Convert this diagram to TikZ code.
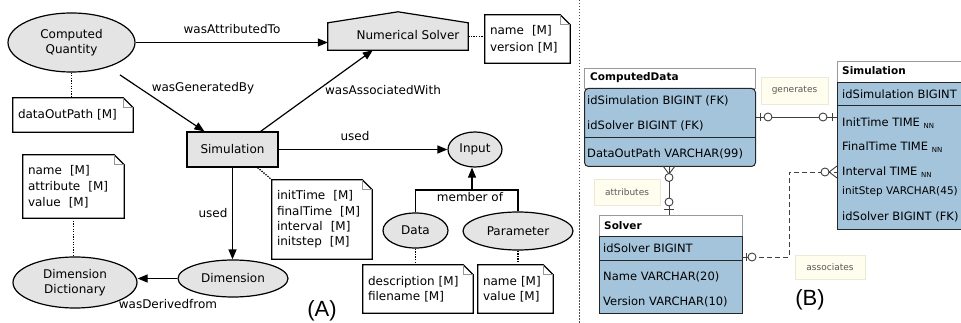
\documentclass[tikz,border=0pt]{standalone}
\usepackage{fontspec}
\setmainfont{DejaVu Sans}
\newfontfamily\labfont{Liberation Sans}
\usetikzlibrary{arrows.meta,shapes.geometric,calc}

\definecolor{fillA}{RGB}{228,228,228}
\definecolor{tblue}{RGB}{164,196,220}
\definecolor{lblfill}{RGB}{255,253,238}
\definecolor{lblbord}{RGB}{236,234,215}
\definecolor{foldgray}{RGB}{150,150,150}

\newcommand{\NNsub}{\raisebox{-1.5pt}{\fontsize{7}{7}\selectfont NN}}

\begin{document}
\begin{tikzpicture}[x=1pt,y=-1pt,
  every node/.style={font=\fontsize{12}{15}\selectfont, inner sep=0pt},
  ell/.style={ellipse, draw, line width=1.2pt, fill=fillA, align=center},
  rel/.style={line width=1.2pt, -{Triangle[length=10pt,width=8pt]}},
  plain/.style={line width=1.2pt},
  dots/.style={line width=1.3pt, dash pattern=on 1.3pt off 1.3pt},
  notebox/.style={rectangle, align=left, inner xsep=5pt},
  elabel/.style={font=\fontsize{12}{14}\selectfont},
  thdr/.style={rectangle, draw=black!40, fill=white, line width=0.8pt, anchor=north west},
  tbody/.style={rectangle, draw=black!85, fill=tblue, line width=1pt, anchor=north west},
  row/.style={anchor=west, font=\fontsize{11.5}{13}\selectfont},
  hdrtext/.style={anchor=west, font=\fontsize{10.5}{12}\selectfont\bfseries},
  lbl/.style={rectangle, fill=lblfill, draw=lblbord, line width=0.6pt, font=\fontsize{9}{10}\selectfont, text=black!65},
  erline/.style={draw=black!75, line width=0.9pt},
  ercirc/.style={draw=black!75, fill=white, line width=0.9pt}
]
\useasboundingbox (0,0) rectangle (961,323);
\fill[white] (0,0) rectangle (961,323);

% ---------------- Part A ----------------
\node[ell, minimum width=127, minimum height=59] (cq) at (71.5,42.5) {Computed\\Quantity};

% Numerical Solver (house shape)
\node[minimum width=140, minimum height=27] (ns) at (398,36.5) {};
\filldraw[fill=fillA, line width=1.2pt] (ns.south west) -- (ns.north west) -- ($(ns.north)+(0,-11)$) -- (ns.north east) -- (ns.south east) -- cycle;
\node at (408,35.5) {Numerical Solver};

\node[draw, fill=fillA, line width=1.2pt, minimum width=91, minimum height=35] (sim) at (232.5,149.5) {Simulation};
\node[ell, minimum width=54, minimum height=35] (inp) at (475,149.5) {Input};
\node[ell, minimum width=110, minimum height=37] (dim) at (233,278.5) {Dimension};
\node[ell, minimum width=124, minimum height=51] (dd) at (75,282.5) {Dimension\\Dictionary};
\node[ell, minimum width=65, minimum height=35] (data) at (415.5,230.5) {Data};
\node[ell, minimum width=110, minimum height=38] (par) at (518,231) {Parameter};

% notes
\node[notebox, minimum width=85, minimum height=48, text width=75, font=\fontsize{12}{17}\selectfont] (n1) at (527.5,39) {name\ \ [M]\\version [M]};
\node[notebox, minimum width=120, minimum height=34, text width=110] (n2) at (73,115) {dataOutPath [M]};
\node[notebox, minimum width=101, minimum height=63, text width=91, font=\fontsize{12}{16}\selectfont] (n3) at (73.5,186.5) {name\ \ [M]\\attribute\ \ [M]\\value\ \ [M]};
\node[notebox, minimum width=100, minimum height=79, text width=90, font=\fontsize{12}{15.3}\selectfont] (n4) at (322,219.5) {initTime\ \ [M]\\finalTime\ \ [M]\\interval\ \ [M]\\initstep\ \ [M]};
\node[notebox, minimum width=110, minimum height=48, text width=100] (n5) at (418,289) {description [M]\\filename [M]};
\node[notebox, minimum width=75, minimum height=48, text width=65] (n6) at (515.5,289) {name [M]\\value [M]};

\foreach \n in {n1,n2,n3,n4,n5,n6}{
  \draw[line width=1.2pt] (\n.south west) -- (\n.north west) -- ($(\n.north east)+(-10,0)$) -- ($(\n.north east)+(0,10)$) -- (\n.south east) -- cycle;
  \draw[foldgray, line width=0.8pt] ($(\n.north east)+(-10,0)$) -- ($(\n.north east)+(-10,10)$) -- ($(\n.north east)+(0,10)$);
}

% relations
\draw[rel] (cq.east) -- (ns.west |- cq.east);
\node[elabel] at (232,29) {wasAttributedTo};

\draw[rel, shorten <=14pt] (cq) -- ($(sim.north west)+(18,0)$);
\node[elabel] at (203,88) {wasGeneratedBy};

\draw[rel] ($(sim.north east)+(-18,0)$) -- ($(ns.south west)+(45,0)$);
\node[elabel] at (383,90) {wasAssociatedWith};

\draw[rel] (sim.east) -- (inp.west);
\node[elabel] at (355,136) {used};

\draw[rel] (sim.south) -- (sim.south |- dim.north);
\node[elabel] at (213,213) {used};

\draw[rel] (dim.west) -- (dd.east |- dim.west);
\node[elabel] at (168,304) {wasDerivedfrom};

\coordinate (mo) at (472,190);
\draw[plain] (data.north) -- (data.north |- mo) -- (par.north |- mo) -- (par.north);
\draw[rel] (mo) -- (mo |- inp.south);
\node[elabel] at (470,197) {member of};

% dotted links
\draw[dots] (ns.east) -- (n1.west |- ns.east);
\draw[dots] (cq.south) -- (cq.south |- n2.north);
\draw[dots] ($(sim.south east)+(-21,0)$) -- (n4.north west);
\draw[dots] (n3.south) -- (n3.south |- dd.north);
\draw[dots] (data.south) -- (data.south |- n5.north);
\draw[dots] (par.south) -- (par.south |- n6.north);

\node[font=\fontsize{22}{24}\selectfont\labfont] (la) at (322,311) {(A)};

% divider
\draw[black!70, line width=0.7pt, dash pattern=on 1.5pt off 1.5pt] (579,0) -- (579,323);

% ---------------- Part B ----------------
% ComputedData
\node[thdr, minimum width=171, minimum height=20] (cdh) at (584,68) {};
\node[tbody, minimum width=171, minimum height=78, rounded corners=4pt] (cdb) at (584,88) {};
\draw[black!85, line width=1pt] (cdb.west |- 0,138) -- (cdb.east |- 0,138);
\node[hdrtext] at (590,77.5) {ComputedData};
\node[row] at (587,101) {idSimulation BIGINT (FK)};
\node[row] at (587,126) {idSolver BIGINT (FK)};
\node[row] at (587,154) {DataOutPath VARCHAR(99)};

% Simulation
\node[thdr, minimum width=140, minimum height=21] (smh) at (837,61) {};
\node[tbody, minimum width=140, minimum height=147] (smb) at (837,82) {};
\draw[black!85, line width=1pt] (smb.west |- 0,106) -- (smb.east |- 0,106);
\node[hdrtext] at (842,70.5) {Simulation};
\node[row] at (842,94) {idSimulation BIGINT};
\node[row] at (842,123) {InitTime TIME \NNsub};
\node[row] at (842,147) {FinalTime TIME \NNsub};
\node[row] at (842,172) {Interval TIME \NNsub};
\node[row, font=\fontsize{10.5}{12}\selectfont] at (842,192) {initStep VARCHAR(45)};
\node[row] at (842,217) {idSolver BIGINT (FK)};

% Solver
\node[thdr, minimum width=143, minimum height=21] (svh) at (599,215) {};
\node[tbody, minimum width=143, minimum height=77] (svb) at (599,236) {};
\draw[black!85, line width=1pt] (svb.west |- 0,260) -- (svb.east |- 0,260);
\node[hdrtext] at (604,226) {Solver};
\node[row] at (603,248) {idSolver BIGINT};
\node[row] at (603,277) {Name VARCHAR(20)};
\node[row] at (603,302) {Version VARCHAR(10)};

% generates
\node[lbl, minimum width=67, minimum height=27] (lg) at (794.5,90.5) {generates};
\draw[erline] (cdb.east |- 0,117) -- (smb.west |- 0,117);
\draw[erline] (760,113) -- (760,121);
\draw[erline] (832,113) -- (832,121);
\draw[ercirc] (768,117) circle (4);
\draw[ercirc] (823,117) circle (4);

% attributes
\node[lbl, minimum width=66, minimum height=26] (la2) at (627,192) {attributes};
\draw[erline] (cdb.south -| 669,0) -- (svh.north -| 669,0);
\draw[erline] (663,166) -- (669,174) -- (675,166);
\draw[erline] (664,209) -- (674,209);
\draw[ercirc] (669,177.5) circle (4);
\draw[ercirc] (669,202) circle (4);

% associates
\node[lbl, minimum width=70, minimum height=24] (las) at (830,267) {associates};
\draw[erline, dash pattern=on 5pt off 3pt] (svb.east |- 0,257) -- (789,257) -- (789,172) -- (smb.west |- 0,172);
\draw[erline] (746,253) -- (746,261);
\draw[erline] (837,166) -- (829,172) -- (837,178);
\draw[ercirc] (752,257) circle (4);
\draw[ercirc] (825,172) circle (4);

\node[font=\fontsize{22}{24}\selectfont\labfont] (lb) at (810,300) {(B)};
\end{tikzpicture}
\end{document}
